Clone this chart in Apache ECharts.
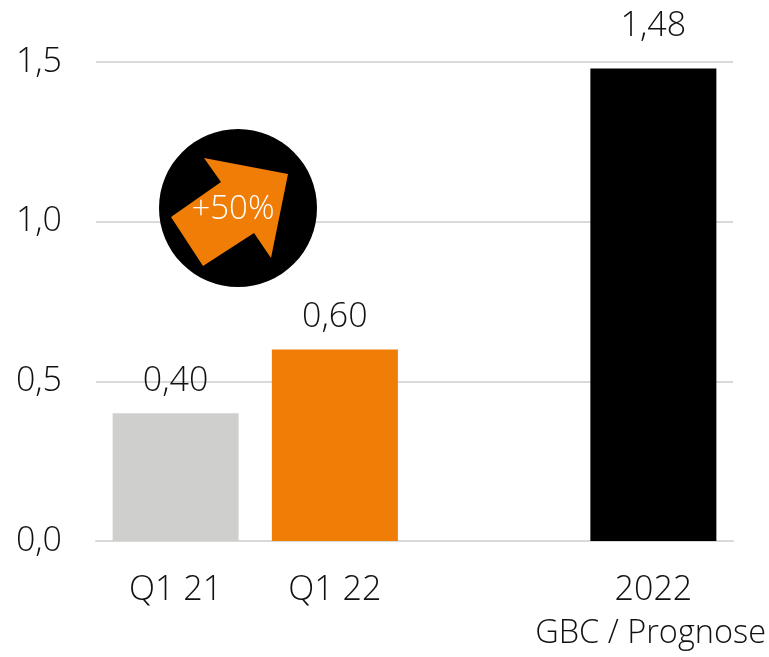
<!DOCTYPE html>
<html>
<head>
<meta charset="utf-8">
<style>
html, body { margin: 0; padding: 0; background: #fff; }
#chart { width: 769px; height: 657px; }
</style>
</head>
<body>
<div id="chart"></div>
<script src="https://cdn.jsdelivr.net/npm/echarts@6/dist/echarts.min.js"></script>
<script>
const categories = ['Q1 21', 'Q1 22', '', '2022'];
const values = [0.4, 0.6, null, 1.48];
const barColors = ['#cfcfcd', '#f07d06', '#cfcfcd', '#000000'];
const yTicks = { min: 0, max: 1.5, interval: 0.5 };

const fontFamily = '"Open Sans", sans-serif';
const comma = (v, digits) => v.toFixed(digits).replace('.', ',');

const myChart = echarts.init(document.getElementById('chart'));

const option = {
    backgroundColor: '#fff',
    animation: false,
    textStyle: { fontFamily: fontFamily, fontWeight: 300 },
    grid: { top: 62, left: 96, right: 36, bottom: 116 },
    title: {
        text: 'GBC / Prognose',
        right: 3,
        top: 617,
        textStyle: { fontFamily: fontFamily, fontWeight: 300, fontSize: 32.5, color: '#111' },
        padding: 0,
    },
    xAxis: {
        type: 'category',
        data: categories,
        axisLine: { lineStyle: { color: '#d9d9d9', width: 2 } },
        axisTick: { show: false },
        axisLabel: {
            color: '#111',
            fontSize: 34,
            fontFamily: fontFamily,
            fontWeight: 300,
            margin: 32,
        },
    },
    yAxis: {
        type: 'value',
        min: yTicks.min,
        max: yTicks.max,
        interval: yTicks.interval,
        axisLine: { show: false },
        axisTick: { show: false },
        splitLine: { lineStyle: { color: '#d9d9d9', width: 2 } },
        axisLabel: {
            color: '#111',
            fontSize: 34,
            fontFamily: fontFamily,
            fontWeight: 300,
            margin: 34,
            formatter: (v) => comma(v, 1),
        },
    },
    series: [
        {
            type: 'bar',
            barWidth: 126,
            data: values.map((v, i) => ({
                value: v,
                itemStyle: { color: barColors[i] },
                // the 2022 label sits higher above its bar
                label: { distance: i === 3 ? 25 : 15 },
            })),
            label: {
                show: true,
                position: 'top',
                color: '#111',
                fontSize: 34,
                fontFamily: fontFamily,
                fontWeight: 300,
                formatter: (p) => comma(p.value, 2),
            },
            z: 2,
        },
    ],
    // Badge over the chart, not tied to the data
    graphic: [
        {
            type: 'circle',
            z: 10,
            shape: { cx: 238, cy: 208, r: 79 },
            style: { fill: '#000' },
        },
        {
            type: 'polygon',
            z: 11,
            shape: {
                points: [[204, 158], [288, 174], [271, 258], [254, 233], [203, 266], [171, 217], [221, 182]],
            },
            style: { fill: '#f07d06' },
        },
        {
            type: 'text',
            z: 12,
            x: 233,
            y: 210,
            style: {
                text: '+50%',
                fill: '#fff',
                fontSize: 33,
                fontFamily: fontFamily,
                fontWeight: 300,
                align: 'center',
                verticalAlign: 'middle',
            },
        },
    ],
};

myChart.setOption(option);
</script>
</body>
</html>
